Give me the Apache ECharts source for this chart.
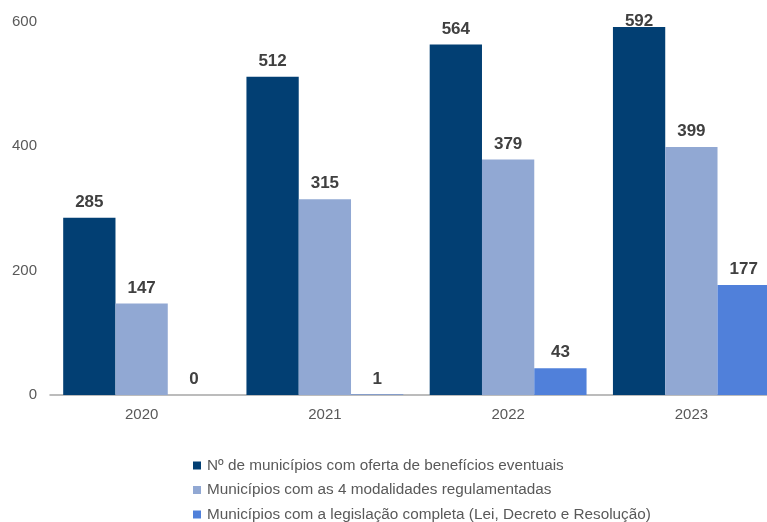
<!DOCTYPE html>
<html>
<head>
<meta charset="utf-8">
<script src="https://cdn.jsdelivr.net/npm/echarts@6/dist/echarts.min.js"></script>
<style>
  html, body { margin: 0; padding: 0; background: #fff; }
  #chart { width: 767px; height: 522px; }
</style>
</head>
<body>
<div id="chart"></div>
<script>
// Years on the category axis
const years = ['2020', '2021', '2022', '2023'];
// Series names
const seriesNames = [
  'Nº de municípios com oferta de benefícios eventuais',
  'Municípios com as 4 modalidades regulamentadas',
  'Municípios com a legislação completa (Lei, Decreto e Resolução)'
];
// Values per series
const ofertaBeneficios = [285, 512, 564, 592];
const modalidadesRegulamentadas = [147, 315, 379, 399];
const legislacaoCompleta = [0, 1, 43, 177];
// Colours per series
const colors = ['#023F73', '#91A8D3', '#5080DA'];

const font = 'Liberation Sans, Arial, sans-serif';
const yMax = 600;

// Labels of bars that nearly reach the top of the plot sit closer to the bar
function withLabels(data) {
  return data.map(function (v) {
    const nearTop = v > yMax * 0.96;
    return { value: v, label: { distance: nearTop ? -3 : 7 } };
  });
}

function makeSeries(name, data, color) {
  return {
    name: name,
    type: 'bar',
    data: withLabels(data),
    barGap: '0%',
    barCategoryGap: '14.4%',
    itemStyle: { color: color },
    label: {
      show: true,
      position: 'top',
      color: '#404040',
      fontFamily: font,
      fontWeight: 'bold',
      fontSize: 17
    }
  };
}

const chart = echarts.init(document.getElementById('chart'));
chart.setOption({
  animation: false,
  color: colors,
  // the plot runs past the right edge of the canvas, so the last bar is cut off
  grid: { left: 50, width: 733, top: 22, height: 373, containLabel: false, outerBoundsMode: 'none' },
  legend: {
    orient: 'vertical',
    left: 193,
    top: 458,
    height: 120,
    padding: 0,
    itemWidth: 8,
    itemHeight: 8,
    itemGap: 9.5,
    icon: 'rect',
    textStyle: { color: '#595959', fontFamily: font, fontSize: 15.3, padding: [0, 0, 0, 1] },
    data: seriesNames
  },
  xAxis: {
    type: 'category',
    data: years,
    axisLine: { lineStyle: { color: '#A6A6A6', width: 1.5 } },
    axisTick: { show: false },
    axisLabel: { color: '#595959', fontFamily: font, fontSize: 15, margin: 12 }
  },
  yAxis: {
    type: 'value',
    min: 0,
    max: yMax,
    interval: 200,
    splitLine: { show: false },
    axisLine: { show: false },
    axisTick: { show: false },
    axisLabel: { color: '#595959', fontFamily: font, fontSize: 15, margin: 13 }
  },
  series: [
    makeSeries(seriesNames[0], ofertaBeneficios, colors[0]),
    makeSeries(seriesNames[1], modalidadesRegulamentadas, colors[1]),
    makeSeries(seriesNames[2], legislacaoCompleta, colors[2])
  ]
});
</script>
</body>
</html>
